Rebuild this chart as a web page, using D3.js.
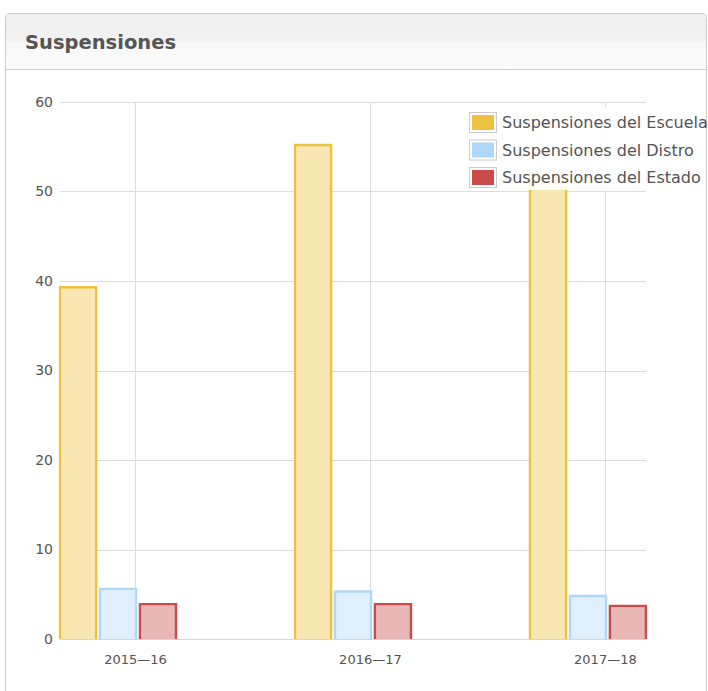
<!DOCTYPE html>
<html>
<head>
<meta charset="utf-8">
<script src="https://cdn.jsdelivr.net/npm/d3@7"></script>
<style>
  html, body { margin: 0; padding: 0; background: #fff; }
  svg { display: block; font-family: "DejaVu Sans", Verdana, sans-serif; }
</style>
</head>
<body>
<svg id="chart" width="708" height="691"></svg>
<script>
// ---- data ----
const title = "Suspensiones";
const categories = ["2015\u201416", "2016\u201417", "2017\u201418"];
const seriesNames = ["Suspensiones del Escuela", "Suspensiones del Distro", "Suspensiones del Estado"];
const escuelaValues = [39.3, 55.2, 52.0];
const distroValues = [5.6, 5.3, 4.8];
const estadoValues = [3.9, 3.9, 3.7];
const yTicks = [0, 10, 20, 30, 40, 50, 60];
const seriesColors = ["#edc240", "#afd8f8", "#cb4b4b"];

const seriesValues = [escuelaValues, distroValues, estadoValues];

// ---- layout ----
const svg = d3.select("#chart");
const plot = { left: 60, right: 646, top: 102, bottom: 639 };

// panel
const defs = svg.append("defs");
const grad = defs.append("linearGradient").attr("id", "hdr").attr("x1", 0).attr("y1", 0).attr("x2", 0).attr("y2", 1);
grad.append("stop").attr("offset", "0%").attr("stop-color", "#f0f0f0");
grad.append("stop").attr("offset", "50%").attr("stop-color", "#f2f2f2");
grad.append("stop").attr("offset", "52%").attr("stop-color", "#f8f8f8");
grad.append("stop").attr("offset", "100%").attr("stop-color", "#fbfbfb");
defs.append("clipPath").attr("id", "panelClip")
  .append("rect").attr("x", 6).attr("y", 14).attr("width", 700).attr("height", 720).attr("rx", 4);

svg.append("rect").attr("x", 5.5).attr("y", 13.5).attr("width", 701).attr("height", 720)
  .attr("rx", 4.5).attr("fill", "#fff").attr("stroke", "#cfcfcf").attr("stroke-width", 1.2);
svg.append("rect").attr("x", 6).attr("y", 14).attr("width", 700).attr("height", 55)
  .attr("fill", "url(#hdr)").attr("clip-path", "url(#panelClip)");
svg.append("line").attr("x1", 6).attr("x2", 706).attr("y1", 69.5).attr("y2", 69.5)
  .attr("stroke", "#d0d0d0");
svg.append("text").attr("x", 25).attr("y", 49).text(title)
  .attr("font-size", 19.5).attr("font-weight", "bold").attr("fill", "#555");

// scales
const x = d3.scaleLinear().domain([-0.319, 2.175]).range([plot.left, plot.right]);
const y = d3.scaleLinear().domain([0, 60]).range([plot.bottom, plot.top]);
const barOffsets = [-0.323, -0.153, 0.017];
const barWidth = 0.162;

const g = svg.append("g");

// horizontal grid
g.append("g").selectAll("line").data(yTicks).join("line")
  .attr("x1", plot.left).attr("x2", plot.right)
  .attr("y1", d => Math.round(y(d)) + 0.5).attr("y2", d => Math.round(y(d)) + 0.5)
  .attr("stroke", "#dcdcdc").attr("stroke-width", 1);

// vertical grid at category ticks
g.append("g").selectAll("line").data(categories).join("line")
  .attr("x1", (d, i) => Math.round(x(i)) + 0.5).attr("x2", (d, i) => Math.round(x(i)) + 0.5)
  .attr("y1", plot.top).attr("y2", plot.bottom)
  .attr("stroke", "#dcdcdc").attr("stroke-width", 1);

// y axis labels
const yAxis = d3.axisLeft(y).tickValues(yTicks).tickSize(0).tickPadding(7).tickFormat(d3.format("d"));
const yg = g.append("g").attr("transform", `translate(${plot.left},0)`).call(yAxis);
yg.select(".domain").remove();
yg.selectAll("text").attr("font-size", 14).attr("fill", "#545454")
  .attr("font-family", "'DejaVu Sans', Verdana, sans-serif");

// x axis labels
const xAxis = d3.axisBottom(x).tickValues(categories.map((d, i) => i)).tickSize(0).tickPadding(16)
  .tickFormat(i => categories[i]);
const xg = g.append("g").attr("transform", `translate(0,${plot.bottom})`).call(xAxis);
xg.select(".domain").remove();
xg.selectAll("text").attr("font-size", 13).attr("fill", "#545454")
  .attr("font-family", "'DejaVu Sans', Verdana, sans-serif");

// bars
seriesValues.forEach((vals, si) => {
  const col = d3.color(seriesColors[si]);
  const fillCol = d3.interpolateRgb("#fff", seriesColors[si])(0.4);
  const sg = g.append("g");
  vals.forEach((v, ci) => {
    const x0 = x(ci + barOffsets[si]) + 1;
    const x1 = x(ci + barOffsets[si] + barWidth) - 1;
    const yt = y(v), yb = y(0);
    sg.append("rect").attr("x", x0).attr("y", yt).attr("width", x1 - x0).attr("height", yb - yt)
      .attr("fill", fillCol);
    sg.append("path")
      .attr("d", `M${x0},${yb}L${x0},${yt}L${x1},${yt}L${x1},${yb}`)
      .attr("fill", "none").attr("stroke", col.formatHex()).attr("stroke-width", 2.4);
  });
});

// bottom axis line
g.append("line").attr("x1", plot.left).attr("x2", plot.right)
  .attr("y1", plot.bottom + 0.5).attr("y2", plot.bottom + 0.5)
  .attr("stroke", "#d6d6d6");

// legend
const lg = svg.append("g");
lg.append("rect").attr("x", 465).attr("y", 107).attr("width", 181).attr("height", 83)
  .attr("fill", "#fff").attr("opacity", 0.88);
const rowTops = [112, 139.5, 167];
seriesNames.forEach((name, i) => {
  const ty = rowTops[i];
  lg.append("rect").attr("x", 469.5).attr("y", ty + 0.5).attr("width", 27).attr("height", 20)
    .attr("fill", "#fff").attr("stroke", "#cccccc");
  lg.append("rect").attr("x", 472).attr("y", ty + 3).attr("width", 22).attr("height", 15)
    .attr("fill", seriesColors[i]);
  lg.append("text").attr("x", 502).attr("y", ty + 10.5).attr("dy", "0.35em")
    .attr("font-size", 16).attr("fill", "#545454").text(name);
});
</script>
</body>
</html>
